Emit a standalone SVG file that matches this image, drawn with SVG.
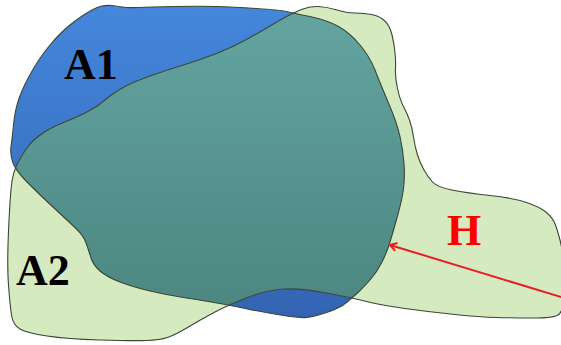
<svg xmlns="http://www.w3.org/2000/svg" width="561" height="345" viewBox="0 0 561 345">
<style>
.outline{fill:none;stroke:#3a4636;stroke-width:1.1;stroke-linejoin:round}
.lbl{font-family:"Liberation Serif","Times New Roman",serif;font-weight:bold;font-size:44px}
.conn{stroke:#e81e25;stroke-width:2;fill:none}
</style>
<defs>
<linearGradient id="gBlue" gradientUnits="userSpaceOnUse" x1="0" y1="5" x2="0" y2="318">
<stop offset="0" stop-color="#4487db"/>
<stop offset="1" stop-color="#3463b3"/>
</linearGradient>
<linearGradient id="gTeal" gradientUnits="userSpaceOnUse" x1="0" y1="12" x2="0" y2="305">
<stop offset="0" stop-color="#63a4a1"/>
<stop offset="1" stop-color="#4d8781"/>
</linearGradient>
<path id="pA1" d="M27.5,182.5 Q15,170 12.5,161.5 Q10,153 11,146.5 Q12,140 13.5,125 Q15,110 19,98.5 Q23,87 31.5,72 Q40,57 50,45 Q60,33 70,25 Q80,17 88.5,12 Q97,7 102,6 Q107,5 112,5.5 Q117,6 122,7 Q127,8 138.5,7.5 Q150,7 175,6.5 Q200,6 216.5,6.5 Q233,7 256.5,8.5 Q280,10 286.5,11.5 Q293,13 310,16.5 Q327,20 338.5,26.5 Q350,33 360,45 Q370,57 375,70 Q380,83 388.5,103 Q397,123 400,136.5 Q403,150 404,163.5 Q405,177 403.5,188.5 Q402,200 397.5,216 Q393,232 390,242 Q387,252 382,262 Q377,272 370,280 Q363,288 358,292.5 Q353,297 346.5,302.5 Q340,308 326.5,312.5 Q313,317 306.5,317.5 Q300,318 283.5,315.5 Q267,313 247.5,309 Q228,305 214,302.5 Q200,300 183.5,297.5 Q167,295 150,291 Q133,287 120,282 Q107,277 100,271 Q93,265 90.5,256.5 Q88,248 85.5,241.5 Q83,235 75,227.5 Q67,220 53.5,207.5 Q40,195 27.5,182.5 Z"/>
<path id="pA2" d="M286.5,16.5 Q293,13 301.5,9.5 Q310,6 318.5,6.5 Q327,7 337,10 Q347,13 353.5,13 Q360,13 368.5,14 Q377,15 382.5,19 Q388,23 390.5,30 Q393,37 394.5,48.5 Q396,60 395.5,68.5 Q395,77 397.5,88.5 Q400,100 403.5,106.5 Q407,113 409.5,120 Q412,127 413.5,137 Q415,147 417.5,155 Q420,163 424,170 Q428,177 432.5,182 Q437,187 452,190 Q467,193 490,195.5 Q513,198 526.5,202.5 Q540,207 546.5,212.5 Q553,218 555.5,225 Q558,232 560,240 Q562,248 564,265 Q566,282 564.5,297 Q563,312 558,315 Q553,318 533,318 Q513,318 496.5,317.5 Q480,317 455,314.5 Q430,312 405,308.5 Q380,305 366.5,301.5 Q353,298 326.5,293 Q300,288 283.5,289 Q267,290 247.5,297.5 Q228,305 214,312.5 Q200,320 187.5,327.5 Q175,335 167.5,337.5 Q160,340 146.5,340.5 Q133,341 100,340 Q67,339 47,336 Q27,333 20,329 Q13,325 11.5,315 Q10,305 8.5,285 Q7,265 8.5,231.5 Q10,198 11.5,185 Q13,172 18,162.5 Q23,153 28,146.5 Q33,140 41.5,134 Q50,128 63.5,122.5 Q77,117 87,112 Q97,107 105,100 Q113,93 123,87.5 Q133,82 150,76 Q167,70 183.5,65 Q200,60 216.5,53.5 Q233,47 246.5,39.5 Q260,32 270,26 Q280,20 286.5,16.5 Z"/>
<clipPath id="clipA2"><use href="#pA2"/></clipPath>
<marker id="arrowOpen" markerUnits="userSpaceOnUse" markerWidth="12" markerHeight="12" viewBox="0 0 12 12" refX="10" refY="6" orient="auto">
<path d="M4,2.3 L10,6 L4,9.7" fill="none" stroke="#e81e25" stroke-width="2" stroke-linecap="round" stroke-linejoin="round"/>
</marker>
</defs>
<g id="A1">
<use href="#pA1" fill="url(#gBlue)"/>
</g>
<g id="A2">
<use href="#pA2" fill="#d5ebbf"/>
</g>
<g id="overlap">
<use href="#pA1" fill="url(#gTeal)" clip-path="url(#clipA2)"/>
</g>
<g id="outlines">
<use href="#pA1" class="outline"/>
<use href="#pA2" class="outline"/>
</g>
<g id="labels">
<text class="lbl" x="64" y="79" fill="#000">A1</text>
<text class="lbl" x="16" y="285" fill="#000">A2</text>
</g>
<g id="connectors">
<line class="conn" x1="563" y1="297.6" x2="390" y2="245" marker-end="url(#arrowOpen)"/>
<text class="lbl" x="464" y="245" fill="#ff0000" text-anchor="middle">H</text>
</g>
</svg>
